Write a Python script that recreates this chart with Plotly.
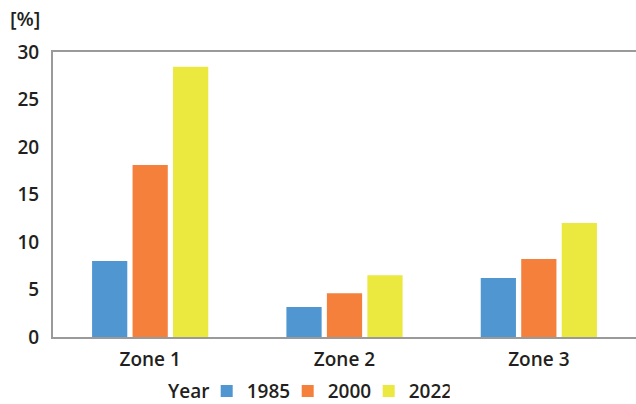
import plotly.graph_objects as go

zones = ["Zone 1", "Zone 2", "Zone 3"]
years = ["1985", "2000", "2022"]
values_1985 = [8.0, 3.15, 6.2]
values_2000 = [18.1, 4.6, 8.2]
values_2022 = [28.45, 6.5, 12.0]
colors = ["#5097D2", "#F4803C", "#EBE840"]
y_ticks = [0, 5, 10, 15, 20, 25, 30]

series = [values_1985, values_2000, values_2022]
font_family = "Open Sans"
text_color = "#231f20"
tick_font = dict(family=font_family, size=19, color=text_color, weight=600)

fig = go.Figure()
for yr, vals, col in zip(years, series, colors):
    fig.add_trace(go.Bar(x=zones, y=vals, name=yr, marker=dict(color=col, line=dict(width=0))))

fig.update_layout(
    width=636, height=404,
    margin=dict(l=53, r=0, t=52, b=67, autoexpand=False),
    plot_bgcolor="white", paper_bgcolor="white",
    barmode="group", bargap=0.375, bargroupgap=0.13,
    font=tick_font,
    legend=dict(orientation="h", xref="container", yref="container",
                x=0.325, xanchor="left", y=0.032, yanchor="middle",
                font=tick_font, entrywidth=36, entrywidthmode="pixels",
                itemwidth=30, traceorder="normal"),
    showlegend=True,
)
fig.update_xaxes(showline=True, linecolor="#9a9a9a", linewidth=2, mirror=True,
                 showgrid=False, ticks="", ticklabelstandoff=4, tickfont=tick_font)
fig.update_yaxes(range=[0, 30], tickvals=y_ticks, showline=True, linecolor="#9a9a9a", linewidth=2,
                 showgrid=False, zeroline=False, ticks="", ticklabelstandoff=8, tickfont=tick_font)
fig.add_annotation(text="Year", xref="paper", yref="paper", x=0.193, y=0, yshift=-54,
                   xanchor="left", yanchor="middle", showarrow=False, font=tick_font)
fig.add_annotation(text="[%]", xref="paper", yref="paper", x=-0.077, y=1.0, yshift=34,
                   xanchor="left", yanchor="middle", showarrow=False,
                   font=dict(family=font_family, size=20, color=text_color))
fig.write_html("out.html")
